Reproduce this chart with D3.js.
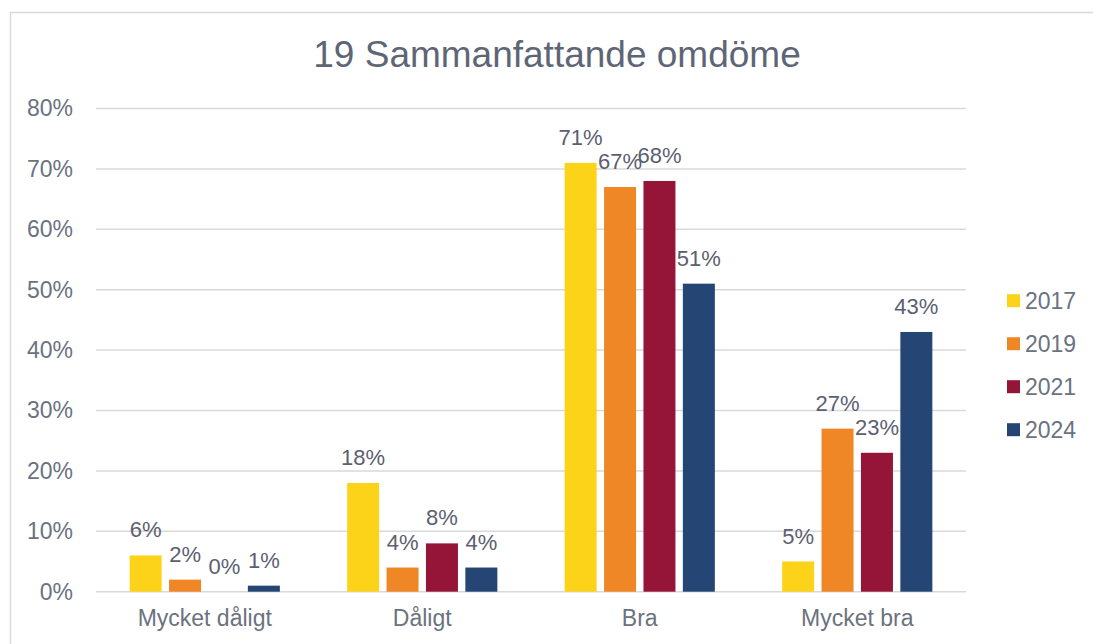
<!DOCTYPE html>
<html><head><meta charset="utf-8">
<script src="https://cdn.jsdelivr.net/npm/d3@7"></script>
<style>body{margin:0;background:#fff;}svg{display:block;font-family:"Liberation Sans",Arial,sans-serif;}</style>
</head><body>
<svg id="c" width="1093" height="644"></svg>
<script>
const title = "19 Sammanfattande omdöme";
const categories = ["Mycket dåligt", "Dåligt", "Bra", "Mycket bra"];
const years = ["2017", "2019", "2021", "2024"];
const v2017 = [0.06, 0.18, 0.71, 0.05];
const v2019 = [0.02, 0.04, 0.67, 0.27];
const v2021 = [0.00, 0.08, 0.68, 0.23];
const v2024 = [0.01, 0.04, 0.51, 0.43];
const yTicks = [0, 0.1, 0.2, 0.3, 0.4, 0.5, 0.6, 0.7, 0.8];
const colors = ["#FDD319", "#F08726", "#951539", "#254574"];

const series = [v2017, v2019, v2021, v2024];
const svg = d3.select("#c");
const txt = "#6b7280";

svg.append("rect").attr("x",10.5).attr("y",12.5).attr("width",1100).attr("height",700)
  .attr("fill","none").attr("stroke","#d9d9d9").attr("stroke-width",1.5);

const x0 = d3.scaleBand().domain(categories).range([96, 966]).padding(0);
const x1 = d3.scaleBand().domain(years).range([0, x0.bandwidth()]).paddingInner(0.188).paddingOuter(0.854);
const y = d3.scaleLinear().domain([0, 0.8]).range([591.7, 108.5]);

// gridlines
svg.append("g").selectAll("line").data(yTicks).join("line")
  .attr("x1",96).attr("x2",966).attr("y1",d=>y(d)).attr("y2",d=>y(d))
  .attr("stroke","#d9d9d9").attr("stroke-width",1.5);

// y axis
const ya = svg.append("g").attr("transform","translate(73,0)")
  .call(d3.axisLeft(y).tickValues(yTicks).tickFormat(d3.format(".0%")).tickSize(0).tickPadding(0));
ya.select(".domain").remove();
ya.selectAll("text").attr("font-size",23).attr("fill",txt).attr("font-family","Liberation Sans, Arial, sans-serif");

// x axis
const xa = svg.append("g").attr("transform","translate(0,610)")
  .call(d3.axisBottom(x0).tickSize(0).tickPadding(0));
xa.select(".domain").remove();
xa.selectAll("text").attr("font-size",23).attr("fill",txt).attr("dy","0.71em").attr("font-family","Liberation Sans, Arial, sans-serif");

// bars
const data = [];
categories.forEach((c,i)=>years.forEach((yr,j)=>data.push({c, yr, j, v: series[j][i]})));
const g = svg.append("g");
g.selectAll("rect").data(data).join("rect")
  .attr("x", d=>x0(d.c)+x1(d.yr)).attr("width", x1.bandwidth())
  .attr("y", d=>y(d.v)).attr("height", d=>y(0)-y(d.v))
  .attr("fill", d=>colors[d.j]);
g.selectAll("text").data(data).join("text")
  .attr("x", d=>x0(d.c)+x1(d.yr)+x1.bandwidth()/2)
  .attr("y", d=>y(d.v)-18)
  .attr("text-anchor","middle").attr("font-size",22).attr("fill","#5b6070")
  .text(d=>d3.format(".0%")(d.v));

// title
svg.append("text").attr("x",557).attr("y",67).attr("text-anchor","middle")
  .attr("font-size",37).attr("fill","#5e6676").text(title);

// legend
const lg = svg.append("g").selectAll("g").data(years).join("g")
  .attr("transform",(d,i)=>`translate(1007,${300.7+i*43})`);
lg.append("rect").attr("x",0).attr("y",-6.5).attr("width",13).attr("height",13).attr("fill",(d,i)=>colors[i]);
lg.append("text").attr("x",18).attr("y",0).attr("dy","0.36em").attr("font-size",23).attr("fill",txt).text(d=>d);
</script>
</body></html>
